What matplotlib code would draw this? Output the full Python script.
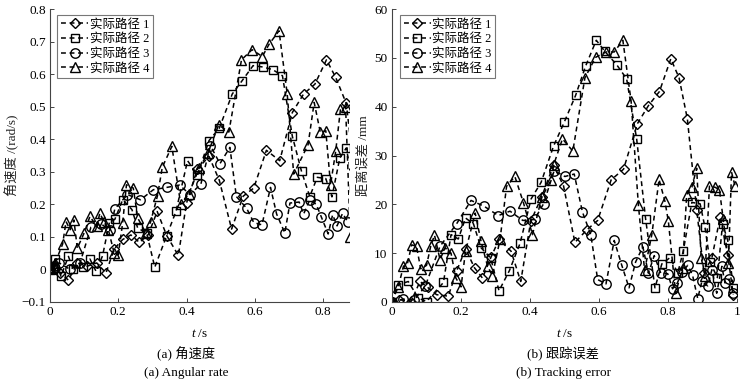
import matplotlib
matplotlib.use("Agg")
import matplotlib.pyplot as plt

# ---------------- data: (a) angular rate ----------------
ang_t1 = [0, 0.015, 0.03, 0.054, 0.08, 0.109, 0.137, 0.164, 0.188, 0.213, 0.237, 0.262, 0.288, 0.314, 0.342,
          0.376, 0.40, 0.432, 0.466, 0.496, 0.532, 0.566, 0.597, 0.634, 0.673, 0.71, 0.743, 0.776, 0.81, 0.837,
          0.868, 0.89]
ang_v1 = [0, 0.0, -0.01, -0.033, 0.02, 0.01, 0.02, -0.011, 0.063, 0.092, 0.106, 0.083, 0.107, 0.178, 0.104,
          0.043, 0.204, 0.309, 0.347, 0.274, 0.124, 0.225, 0.25, 0.366, 0.334, 0.482, 0.539, 0.569, 0.644, 0.59,
          0.51, 0.31]
ang_t2 = [0, 0.008, 0.015, 0.032, 0.054, 0.068, 0.098, 0.117, 0.135, 0.154, 0.174, 0.19, 0.213, 0.24, 0.257,
          0.283, 0.307, 0.342, 0.369, 0.403, 0.432, 0.466, 0.496, 0.534, 0.563, 0.595, 0.623, 0.652, 0.681, 0.71,
          0.737, 0.761, 0.783, 0.808, 0.826, 0.849, 0.868, 0.89]
ang_v2 = [0, 0.005, 0.032, -0.021, 0.04, 0.001, 0.009, 0.032, -0.006, 0.042, 0.144, 0.154, 0.214, 0.184, 0.127,
          0.112, 0.007, 0.104, 0.178, 0.334, 0.291, 0.396, 0.434, 0.539, 0.58, 0.626, 0.622, 0.614, 0.595, 0.409,
          0.301, 0.224, 0.283, 0.279, 0.223, 0.342, 0.373, 0.25]
ang_t3 = [0, 0.012, 0.027, 0.059, 0.088, 0.12, 0.15, 0.175, 0.19, 0.227, 0.265, 0.303, 0.342, 0.38, 0.41, 0.442,
          0.47, 0.498, 0.527, 0.546, 0.576, 0.597, 0.621, 0.646, 0.664, 0.688, 0.703, 0.73, 0.743, 0.761, 0.78,
          0.795, 0.815, 0.828, 0.841, 0.857, 0.873]
ang_v3 = [0, 0.01, 0.02, 0.0, 0.02, 0.13, 0.14, 0.12, 0.186, 0.23, 0.214, 0.245, 0.252, 0.259, 0.23, 0.262,
          0.38, 0.325, 0.375, 0.224, 0.188, 0.144, 0.137, 0.252, 0.17, 0.112, 0.204, 0.207, 0.17, 0.214, 0.2,
          0.161, 0.109, 0.168, 0.134, 0.172, 0.146]
ang_t4 = [0, 0.015, 0.037, 0.047, 0.059, 0.07, 0.08, 0.1, 0.117, 0.137, 0.146, 0.158, 0.171, 0.188, 0.2, 0.213,
          0.224, 0.244, 0.257, 0.281, 0.295, 0.315, 0.329, 0.357, 0.383, 0.407, 0.437, 0.463, 0.494, 0.524, 0.561,
          0.592, 0.622, 0.642, 0.671, 0.695, 0.714, 0.756, 0.774, 0.792, 0.808, 0.822, 0.837, 0.851, 0.866, 0.88]
ang_v4 = [0, 0.02, 0.078, 0.147, 0.122, 0.152, 0.065, 0.112, 0.163, 0.132, 0.173, 0.147, 0.122, 0.05, 0.045,
          0.144, 0.26, 0.25, 0.158, 0.112, 0.147, 0.227, 0.314, 0.378, 0.2, 0.233, 0.311, 0.358, 0.444, 0.422,
          0.644, 0.675, 0.654, 0.692, 0.733, 0.539, 0.293, 0.383, 0.513, 0.421, 0.426, 0.26, 0.363, 0.492, 0.50, 0.1]

# ---------------- data: (b) tracking error ----------------
err_t1 = [0, 0.02, 0.056, 0.082, 0.104, 0.13, 0.164, 0.188, 0.214, 0.24, 0.263, 0.288, 0.311, 0.346, 0.374,
          0.403, 0.435, 0.469, 0.498, 0.531, 0.566, 0.597, 0.636, 0.672, 0.712, 0.744, 0.776, 0.809, 0.833, 0.857,
          0.884, 0.905, 0.928, 0.952, 0.974, 0.99]
err_v1 = [0.1, 0.5, 0.1, 4.2, 3.0, 1.5, 1.2, 6.3, 10.9, 7.0, 4.9, 9.2, 12.8, 10.4, 4.2, 16.5, 21.6, 28.0, 23.8,
          12.2, 14.8, 16.7, 25.0, 27.2, 36.5, 40.2, 43.1, 49.8, 45.9, 37.5, 18.9, 6.0, 9.0, 17.4, 9.7, 1.5]
err_t2 = [0, 0.017, 0.048, 0.077, 0.101, 0.15, 0.172, 0.193, 0.214, 0.237, 0.259, 0.287, 0.311, 0.341, 0.372,
          0.404, 0.433, 0.469, 0.5, 0.533, 0.562, 0.593, 0.618, 0.652, 0.681, 0.71, 0.736, 0.763, 0.783, 0.807,
          0.829, 0.845, 0.87, 0.894, 0.908, 0.923, 0.944, 0.959, 0.974, 0.99]
err_v2 = [0, 3.5, 4.2, 0.8, 0.1, 4.0, 13.8, 12.9, 17.2, 16.0, 11.1, 9.0, 2.3, 6.4, 12.0, 21.1, 24.5, 31.9, 36.8,
          42.3, 48.3, 53.6, 51.3, 48.6, 45.7, 33.4, 17.0, 2.9, 7.8, 9.1, 5.9, 10.4, 20.4, 20.1, 15.3, 8.1, 5.0,
          16.0, 12.6, 2.9]
err_t3 = [0, 0.034, 0.065, 0.097, 0.14, 0.188, 0.23, 0.268, 0.309, 0.343, 0.38, 0.414, 0.44, 0.471, 0.502, 0.529,
          0.553, 0.577, 0.597, 0.621, 0.645, 0.667, 0.688, 0.707, 0.728, 0.744, 0.761, 0.78, 0.8, 0.814, 0.828,
          0.841, 0.858, 0.872, 0.887, 0.899, 0.916, 0.928, 0.942, 0.957, 0.966, 0.978, 0.99]
err_v3 = [0, 0.6, 0.4, 3.2, 11.4, 16.0, 20.8, 19.6, 17.7, 18.6, 16.7, 16.9, 20.1, 26.9, 25.7, 26.2, 18.4, 13.8,
          4.6, 3.7, 12.6, 7.5, 2.9, 8.2, 11.3, 5.9, 9.5, 5.9, 5.8, 2.7, 3.9, 6.1, 7.5, 5.5, 0.7, 4.2, 3.3, 6.6,
          1.8, 7.3, 3.9, 4.7, 1.8]
err_t4 = [0, 0.019, 0.034, 0.046, 0.058, 0.072, 0.084, 0.101, 0.113, 0.124, 0.14, 0.155, 0.172, 0.186, 0.201,
          0.214, 0.242, 0.259, 0.278, 0.292, 0.314, 0.333, 0.357, 0.382, 0.408, 0.435, 0.462, 0.469, 0.495, 0.525,
          0.56, 0.591, 0.621, 0.645, 0.67, 0.694, 0.715, 0.733, 0.754, 0.775, 0.792, 0.802, 0.823, 0.843, 0.855,
          0.87, 0.884, 0.897, 0.908, 0.921, 0.937, 0.95, 0.961, 0.976, 0.985, 0.995]
err_v4 = [0, 3.1, 7.3, 8.0, 11.7, 11.4, 6.8, 7.5, 11.4, 13.7, 8.7, 11.1, 10.0, 4.9, 3.1, 10.4, 18.2, 12.4, 7.3,
          5.4, 12.8, 23.7, 25.7, 20.3, 13.8, 21.4, 25.0, 28.0, 33.4, 30.9, 45.9, 50.1, 51.2, 51.2, 53.6, 41.1,
          19.9, 6.5, 13.8, 25.1, 20.6, 16.5, 1.8, 7.0, 22.0, 23.5, 27.4, 9.1, 5.3, 23.7, 23.5, 23.0, 16.9, 8.0,
          26.6, 23.8]

series_names = ["实际路径 1", "实际路径 2", "实际路径 3", "实际路径 4"]
ang_yticks = [-0.1, 0, 0.1, 0.2, 0.3, 0.4, 0.5, 0.6, 0.7, 0.8]
ang_yticklabels = ["\u22120.1", "0", "0.1", "0.2", "0.3", "0.4", "0.5", "0.6", "0.7", "0.8"]
ang_xticks = [0, 0.2, 0.4, 0.6, 0.8]
ang_xticklabels = ["0", "0.2", "0.4", "0.6", "0.8"]
err_yticks = [0, 10, 20, 30, 40, 50, 60]
err_yticklabels = ["0", "10", "20", "30", "40", "50", "60"]
err_xticks = [0, 0.2, 0.4, 0.6, 0.8, 1.0]
err_xticklabels = ["0", "0.2", "0.4", "0.6", "0.8", "1"]

# ---------------- style ----------------
FAM = ["Liberation Serif", "Noto Sans CJK SC"]
plt.rcParams["font.family"] = FAM
plt.rcParams["mathtext.fontset"] = "custom"
plt.rcParams["mathtext.it"] = "Liberation Serif:italic"
plt.rcParams["mathtext.rm"] = "Liberation Serif"
FS = 9.5
LFS = 9

markers = ["D", "s", "o", "^"]
msizes = [5.2, 5.6, 6.8, 7.4]

fig = plt.figure(figsize=(7.5, 3.86), dpi=100)
ax1 = fig.add_axes([50 / 750, 1 - 302 / 386, 299 / 750, 293 / 386])
ax2 = fig.add_axes([391.7 / 750, 1 - 302 / 386, 345 / 750, 293 / 386])


def draw(ax, ts, vs):
    for t, v, m, ms, name in zip(ts, vs, markers, msizes, series_names):
        ax.plot(t, v, linestyle=(0, (3.2, 2.4)), color="black", linewidth=1.1,
                marker=m, markersize=ms, markerfacecolor="none", markeredgecolor="black",
                markeredgewidth=1.0, label=name)
    for s in ["top", "right"]:
        ax.spines[s].set_visible(False)
    for s in ["left", "bottom"]:
        ax.spines[s].set_color("#444444")
        ax.spines[s].set_linewidth(0.8)
    ax.tick_params(direction="in", length=3, width=0.7, colors="#444444", labelsize=FS,
                   labelcolor="black", pad=3)
    leg = ax.legend(loc="upper left", bbox_to_anchor=(0.02, 0.985), frameon=True, fancybox=False,
                    edgecolor="#555555", fontsize=LFS, handlelength=2.2, handletextpad=0.1,
                    borderpad=0.3, labelspacing=0.22, borderaxespad=0.1)
    leg.get_frame().set_linewidth(0.8)
    ax.set_xlabel(r"$t$ /s", fontsize=FS, labelpad=7)


draw(ax1, [ang_t1, ang_t2, ang_t3, ang_t4], [ang_v1, ang_v2, ang_v3, ang_v4])
ax1.set_xlim(0, 0.876)
ax1.set_ylim(-0.1, 0.8)
ax1.set_xticks(ang_xticks)
ax1.set_xticklabels(ang_xticklabels)
ax1.set_yticks(ang_yticks)
ax1.set_yticklabels(ang_yticklabels)
ax1.set_ylabel("角速度 /(rad/s)", fontsize=FS, labelpad=2, color="#222222")

draw(ax2, [err_t1, err_t2, err_t3, err_t4], [err_v1, err_v2, err_v3, err_v4])
ax2.set_xlim(0, 1)
ax2.set_ylim(0, 60)
ax2.set_xticks(err_xticks)
ax2.set_xticklabels(err_xticklabels)
ax2.set_yticks(err_yticks)
ax2.set_yticklabels(err_yticklabels)
ax2.set_ylabel("距离误差 /mm", fontsize=FS, labelpad=3, color="#222222")

fig.text(186 / 750, 1 - 354 / 386, "(a) 角速度", ha="center", va="center", fontsize=FS)
fig.text(186 / 750, 1 - 373 / 386, "(a) Angular rate", ha="center", va="center", fontsize=FS)
fig.text(563 / 750, 1 - 354 / 386, "(b) 跟踪误差", ha="center", va="center", fontsize=FS)
fig.text(563 / 750, 1 - 373 / 386, "(b) Tracking error", ha="center", va="center", fontsize=FS)

fig.savefig("out.png", dpi=100)
